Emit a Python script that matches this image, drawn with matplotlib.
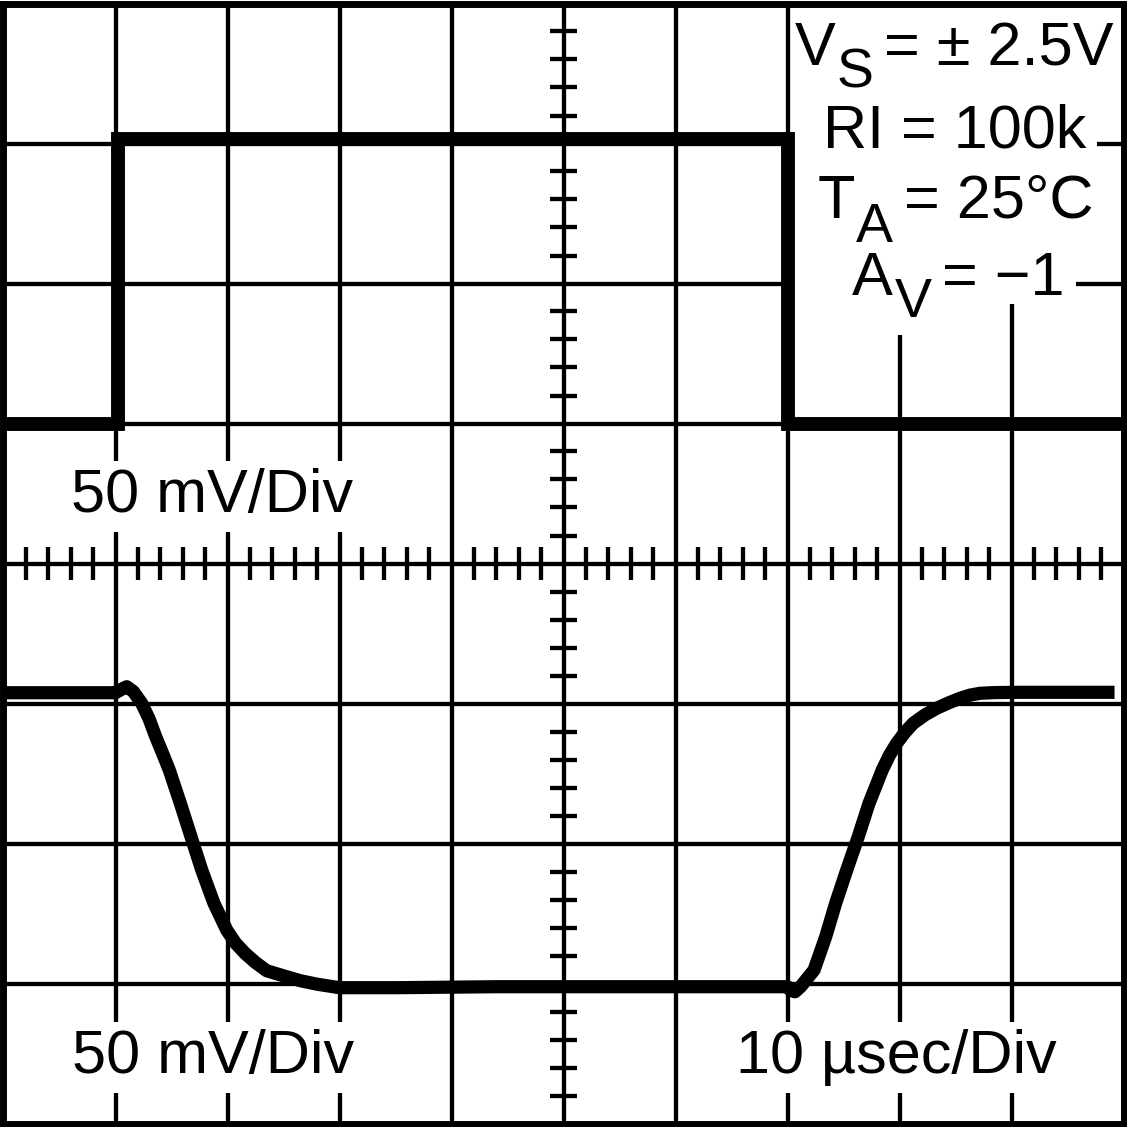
import numpy as np
import matplotlib
matplotlib.use("Agg")
import matplotlib.pyplot as plt
import matplotlib.patches as patches

plt.rcParams['font.family'] = ['Liberation Sans', 'DejaVu Sans']

# scope screen: 10 x 8 divisions, x in div (0..10), y in div (-4..4)
n_xdiv = 10
n_ydiv = 8

# input step (top trace) in divisions
x_in = [0.0, 1.02, 1.02, 7.0, 7.0, 10.0]
v_in = [1.0, 1.0, 3.03, 3.03, 1.0, 1.0]

# output response (bottom trace)
x_out = [0.0, 1.00, 1.05, 1.10, 1.16, 1.234, 1.30, 1.359, 1.42, 1.48, 1.579,
         1.674, 1.77, 1.879, 1.993, 2.07, 2.156, 2.25, 2.35, 2.50, 2.65, 2.80,
         3.00, 3.50, 4.40, 7.00, 7.03, 7.067, 7.12, 7.18, 7.237, 7.341, 7.43,
         7.529, 7.632, 7.728, 7.846, 7.91, 7.975, 8.05, 8.123, 8.23, 8.332,
         8.44, 8.54, 8.63, 8.719, 8.85, 9.08, 9.92]
v_out = [-0.923, -0.923, -0.90, -0.88, -0.915, -0.999, -1.11, -1.237, -1.355,
         -1.475, -1.713, -1.951, -2.189, -2.427, -2.618, -2.71, -2.784, -2.85,
         -2.909, -2.945, -2.98, -3.005, -3.03, -3.03, -3.023, -3.023, -3.05,
         -3.059, -3.02, -2.96, -2.904, -2.666, -2.427, -2.189, -1.951, -1.713,
         -1.475, -1.37, -1.284, -1.205, -1.141, -1.08, -1.034, -0.995, -0.963,
         -0.94, -0.927, -0.922, -0.92, -0.92]

W = 1127
fig = plt.figure(figsize=(W / 100, W / 100), dpi=100)
ax = fig.add_axes([3.5 / W, 3.5 / W, 1120 / W, 1120 / W])
ax.set_xlim(0, n_xdiv)
ax.set_ylim(-n_ydiv / 2, n_ydiv / 2)
ax.set_xticks([])
ax.set_yticks([])
for s in ax.spines.values():
    s.set_linewidth(5.0)
    s.set_zorder(10)

grid_lw = 3.1
for i in range(1, n_xdiv):
    ax.axvline(i, color='black', lw=grid_lw, zorder=1)
for j in range(1, n_ydiv):
    ax.axhline(j - n_ydiv / 2, color='black', lw=grid_lw, zorder=1)

# minor ticks along the centre axes (5 per division)
tl = 0.117
xm = [k * 0.2 for k in range(1, n_xdiv * 5) if k % 5 != 0]
ym = [k * 0.2 - n_ydiv / 2 for k in range(1, n_ydiv * 5) if k % 5 != 0]
ax.vlines(xm, -tl, tl, color='black', lw=grid_lw, zorder=1)
ax.hlines(ym, n_xdiv / 2 - tl, n_xdiv / 2 + tl, color='black', lw=grid_lw, zorder=1)


def px(x, y):
    # image pixel -> divisions
    return (x - 3.5) / 112.0, (563.5 - y) / 140.0


def mask(x0, y0, x1, y1):
    a = px(x0, y1)
    b = px(x1, y0)
    ax.add_patch(patches.Rectangle(a, b[0] - a[0], b[1] - a[1], facecolor='white',
                                   edgecolor='none', zorder=2))


def label(x, y, s, size=44, ha='left', box=False):
    X, Y = px(x, y)
    kw = {}
    if box:
        kw['bbox'] = dict(facecolor='white', edgecolor='none', boxstyle='square,pad=0.12')
    ax.text(X, Y, s, fontsize=size, ha=ha, va='baseline', color='black', zorder=4, **kw)


# white area behind the conditions block
mask(793, 0, 1097, 152)
mask(793, 152, 1076, 304)
mask(880, 304, 945, 335)

label(212, 512, '50 mV/Div', ha='center', box=True)
label(213, 1073, '50 mV/Div', ha='center', box=True)
label(896, 1073, '10 \u00b5sec/Div', ha='center', box=True)

label(795, 65, 'V')
label(837, 88, 'S', size=40)
label(1113, 65, '= \u00b1 2.5V', ha='right')
label(1086, 148, 'RI = 100k', ha='right')
label(818, 218, 'T')
label(856, 242, 'A', size=40)
label(1094, 218, '= 25\u00b0C', ha='right')
label(852, 295, 'A')
label(895, 317, 'V', size=40)
label(1064, 295, '= \u22121', ha='right')

ax.plot(x_in, v_in, color='black', lw=10.0, solid_joinstyle='miter',
        solid_capstyle='butt', zorder=5)
ax.plot(x_out, v_out, color='black', lw=9.5, solid_joinstyle='round',
        solid_capstyle='butt', zorder=5)

fig.savefig('out.png', dpi=100, facecolor='white')
